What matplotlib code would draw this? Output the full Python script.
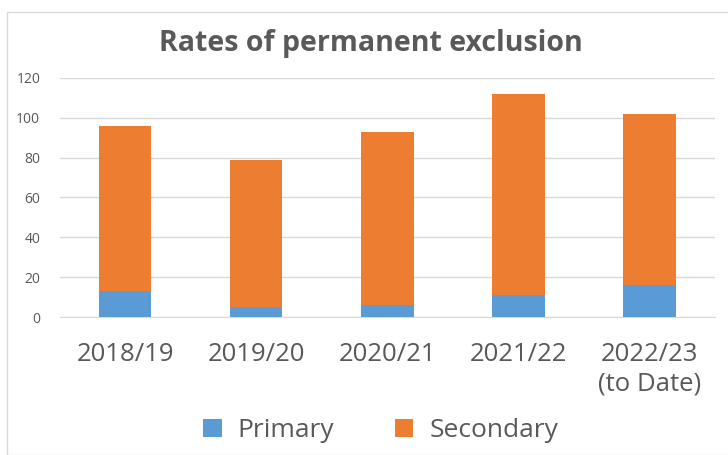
import numpy as np
import matplotlib.pyplot as plt
from matplotlib.patches import Rectangle

# data
years = ['2018/19', '2019/20', '2020/21', '2021/22', '2022/23\n(to Date)']
primary = [13, 5, 6, 11, 16]
secondary = [83, 74, 87, 101, 86]

plt.rcParams['font.family'] = ['Open Sans', 'DejaVu Sans']

fig = plt.figure(figsize=(7.28, 4.55), dpi=100)
ax = fig.add_axes([0.082, 0.303, 0.900, 0.526])

# outer chart frame
fig.patches.append(Rectangle((7 / 728, 0), 1, 1 - 12 / 455, transform=fig.transFigure,
                             fill=False, edgecolor='#d9d9d9', linewidth=1))

x = np.arange(len(years))
ax.bar(x, primary, width=0.4, color='#5b9bd5', label='Primary', zorder=3)
ax.bar(x, secondary, width=0.4, bottom=primary, color='#ed7d31', label='Secondary', zorder=3)

ax.set_ylim(0, 120)
ax.set_xlim(-0.5, 4.5)
ax.set_yticks(range(0, 121, 20))
ax.yaxis.grid(True, color='#d9d9d9', linewidth=1, zorder=0)
for s in ax.spines.values():
    s.set_visible(False)
ax.spines['bottom'].set_visible(True)
ax.spines['bottom'].set_color('#d9d9d9')
ax.tick_params(axis='y', length=0, labelsize=10, labelcolor='#595959', pad=14)
ax.tick_params(axis='x', length=0, labelsize=18.5, labelcolor='#595959', pad=18)
ax.set_xticks(x)
ax.set_xticklabels(years, linespacing=1.25)

fig.text(0.51, 0.905, 'Rates of permanent exclusion', ha='center', va='center',
         fontsize=20.5, fontweight='bold', color='#595959')

ax.legend(loc='center', bbox_to_anchor=(0.49, -0.475), ncol=2, frameon=False,
          fontsize=19, labelcolor='#595959', handlelength=0.7, handleheight=0.7,
          columnspacing=2.3, handletextpad=0.6)

fig.savefig('out.png', dpi=100)
